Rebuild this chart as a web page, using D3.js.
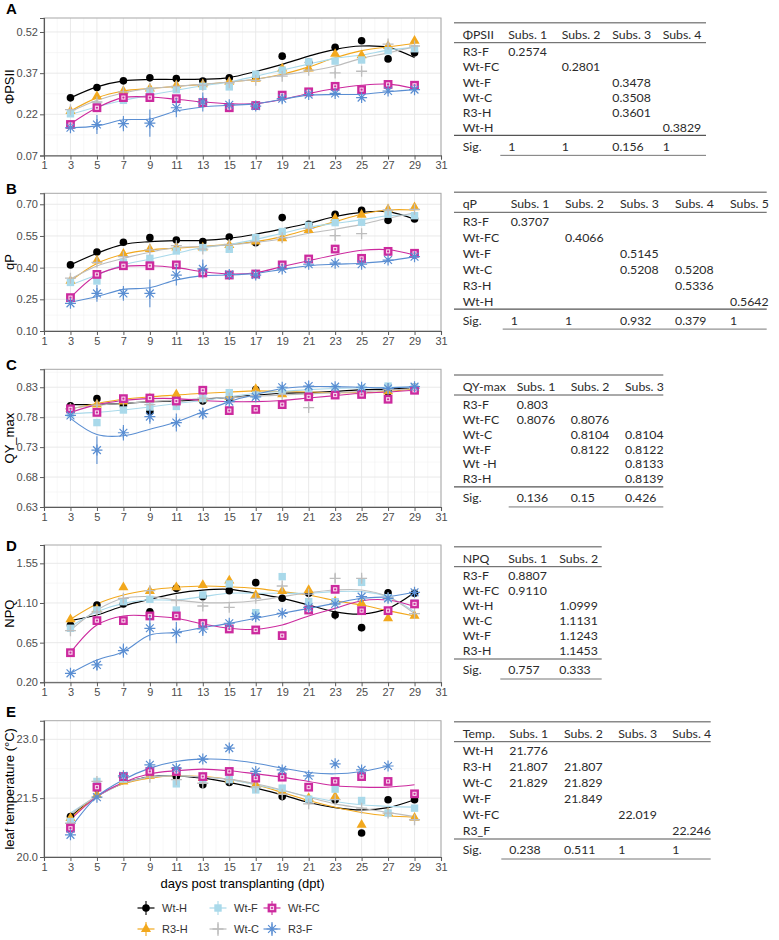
<!DOCTYPE html>
<html>
<head>
<meta charset="utf-8">
<script src="https://cdn.jsdelivr.net/npm/d3@7"></script>
<style>
  body { margin: 0; background: #fff; }
  svg text { font-family: "Liberation Sans", Arial, sans-serif; }
  .tbl text { font-family: Lato, "Open Sans", sans-serif; font-size: 12.3px; fill: #2b2b2b; }
</style>
</head>
<body>
<svg id="fig" width="779" height="940"></svg>
<script>
// ---- data ----
const days = [3, 5, 7, 9, 11, 13, 15, 17, 19, 21, 23, 25, 27, 29];
const groups = ["Wt-H", "R3-H", "Wt-F", "Wt-C", "Wt-FC", "R3-F"];
const xTicks = [1, 3, 5, 7, 9, 11, 13, 15, 17, 19, 21, 23, 25, 27, 29, 31];

// A: PhiPSII
const phiTicks = [0.07, 0.22, 0.37, 0.52];
const phiMean = [
  [0.280, 0.318, 0.342, 0.353, 0.350, 0.341, 0.353, 0.355, 0.432, 0.410, 0.464, 0.488, 0.422, 0.444],
  [0.232, 0.286, 0.305, 0.314, 0.326, 0.329, 0.338, 0.349, 0.387, 0.387, 0.440, 0.435, 0.469, 0.488],
  [0.222, 0.253, 0.271, 0.305, 0.310, 0.322, 0.320, 0.366, 0.381, 0.411, 0.414, 0.418, 0.452, 0.459],
  [0.237, 0.265, 0.302, 0.314, 0.322, 0.326, 0.335, 0.344, 0.359, 0.381, 0.371, 0.377, 0.476, 0.469],
  [0.183, 0.244, 0.281, 0.281, 0.277, 0.263, 0.244, 0.252, 0.290, 0.302, 0.322, 0.310, 0.329, 0.326],
  [0.171, 0.183, 0.186, 0.188, 0.244, 0.265, 0.255, 0.250, 0.277, 0.292, 0.296, 0.281, 0.305, 0.310]
];
const phiFit = [
  [0.280, 0.320, 0.342, 0.347, 0.347, 0.348, 0.354, 0.376, 0.402, 0.432, 0.457, 0.469, 0.464, 0.427],
  [0.232, 0.280, 0.305, 0.314, 0.322, 0.329, 0.338, 0.348, 0.366, 0.393, 0.426, 0.452, 0.466, 0.478],
  [0.220, 0.247, 0.271, 0.290, 0.308, 0.324, 0.338, 0.359, 0.381, 0.403, 0.424, 0.436, 0.454, 0.464],
  [0.229, 0.271, 0.298, 0.314, 0.322, 0.330, 0.338, 0.348, 0.363, 0.377, 0.396, 0.424, 0.444, 0.466],
  [0.185, 0.244, 0.281, 0.283, 0.275, 0.265, 0.259, 0.259, 0.274, 0.296, 0.314, 0.326, 0.330, 0.314],
  [0.171, 0.178, 0.200, 0.203, 0.232, 0.247, 0.253, 0.259, 0.275, 0.290, 0.292, 0.293, 0.302, 0.310]
];
const phiErr = [
  [0.006, 0.006, 0.006, 0.006, 0.006, 0.006, 0.006, 0.006, 0.006, 0.006, 0.006, 0.006, 0.006, 0.006],
  [0.006, 0.006, 0.006, 0.006, 0.006, 0.006, 0.006, 0.006, 0.006, 0.006, 0.006, 0.006, 0.006, 0.006],
  [0.006, 0.006, 0.006, 0.006, 0.006, 0.006, 0.006, 0.006, 0.006, 0.006, 0.006, 0.006, 0.006, 0.006],
  [0.015, 0.006, 0.006, 0.006, 0.006, 0.006, 0.006, 0.006, 0.006, 0.006, 0.006, 0.006, 0.006, 0.006],
  [0.006, 0.006, 0.006, 0.006, 0.006, 0.006, 0.006, 0.006, 0.006, 0.006, 0.006, 0.006, 0.006, 0.006],
  [0.012, 0.035, 0.028, 0.050, 0.035, 0.035, 0.010, 0.012, 0.015, 0.010, 0.010, 0.010, 0.010, 0.010]
];

// B: qP
const qpTicks = [0.10, 0.25, 0.40, 0.55, 0.70];
const qpMean = [
  [0.413, 0.474, 0.520, 0.542, 0.531, 0.523, 0.545, 0.518, 0.637, 0.605, 0.653, 0.672, 0.624, 0.630],
  [0.337, 0.433, 0.465, 0.488, 0.495, 0.495, 0.507, 0.523, 0.539, 0.578, 0.634, 0.650, 0.676, 0.686],
  [0.330, 0.337, 0.425, 0.444, 0.479, 0.495, 0.487, 0.542, 0.571, 0.600, 0.613, 0.615, 0.653, 0.646],
  [0.350, 0.425, 0.452, 0.484, 0.504, 0.488, 0.510, 0.523, 0.542, 0.586, 0.552, 0.561, 0.673, 0.676],
  [0.258, 0.368, 0.409, 0.409, 0.413, 0.375, 0.365, 0.370, 0.413, 0.441, 0.488, 0.444, 0.477, 0.468],
  [0.231, 0.278, 0.278, 0.278, 0.365, 0.394, 0.368, 0.365, 0.394, 0.416, 0.421, 0.416, 0.436, 0.452]
];
const qpFit = [
  [0.413, 0.468, 0.510, 0.523, 0.528, 0.529, 0.539, 0.558, 0.583, 0.610, 0.642, 0.662, 0.665, 0.629],
  [0.337, 0.420, 0.463, 0.484, 0.492, 0.500, 0.510, 0.523, 0.547, 0.582, 0.618, 0.653, 0.673, 0.673],
  [0.318, 0.365, 0.413, 0.440, 0.468, 0.495, 0.510, 0.534, 0.563, 0.591, 0.610, 0.626, 0.646, 0.649],
  [0.346, 0.408, 0.444, 0.473, 0.495, 0.500, 0.507, 0.520, 0.536, 0.563, 0.582, 0.605, 0.634, 0.660],
  [0.258, 0.365, 0.405, 0.409, 0.400, 0.381, 0.370, 0.376, 0.405, 0.433, 0.460, 0.482, 0.485, 0.460],
  [0.236, 0.263, 0.297, 0.305, 0.342, 0.362, 0.365, 0.373, 0.392, 0.409, 0.416, 0.421, 0.432, 0.452]
];
const qpErr = [
  [0.006, 0.006, 0.006, 0.006, 0.006, 0.006, 0.006, 0.006, 0.010, 0.006, 0.006, 0.006, 0.006, 0.006],
  [0.008, 0.006, 0.006, 0.006, 0.006, 0.006, 0.006, 0.006, 0.020, 0.006, 0.006, 0.006, 0.006, 0.006],
  [0.006, 0.006, 0.006, 0.006, 0.006, 0.006, 0.006, 0.006, 0.006, 0.006, 0.006, 0.006, 0.006, 0.006],
  [0.020, 0.006, 0.006, 0.006, 0.006, 0.006, 0.006, 0.006, 0.006, 0.006, 0.006, 0.006, 0.006, 0.006],
  [0.006, 0.006, 0.006, 0.006, 0.006, 0.006, 0.006, 0.006, 0.006, 0.006, 0.006, 0.006, 0.006, 0.006],
  [0.012, 0.040, 0.035, 0.066, 0.050, 0.045, 0.012, 0.015, 0.012, 0.010, 0.010, 0.010, 0.010, 0.010]
];

// C: QY_max
const qyTicks = [0.63, 0.68, 0.73, 0.78, 0.83];
const qyMean = [
  [0.799, 0.811, 0.799, 0.789, 0.805, 0.807, 0.812, 0.826, 0.801, 0.817, 0.822, 0.823, 0.822, 0.830],
  [0.794, 0.801, 0.806, 0.811, 0.818, 0.811, 0.814, 0.827, 0.818, 0.821, 0.822, 0.823, 0.823, 0.828],
  [0.786, 0.771, 0.792, 0.797, 0.798, 0.811, 0.821, 0.817, 0.825, 0.823, 0.828, 0.828, 0.832, 0.830],
  [0.794, 0.800, 0.806, 0.801, 0.806, 0.812, 0.812, 0.816, 0.818, 0.796, 0.820, 0.822, 0.827, 0.828],
  [0.794, 0.788, 0.811, 0.812, 0.807, 0.825, 0.791, 0.793, 0.801, 0.814, 0.817, 0.818, 0.810, 0.825],
  [0.783, 0.725, 0.754, 0.781, 0.771, 0.786, 0.806, 0.814, 0.830, 0.832, 0.831, 0.830, 0.828, 0.831]
];
const qyFit = [
  [0.801, 0.801, 0.803, 0.806, 0.807, 0.810, 0.813, 0.817, 0.820, 0.821, 0.823, 0.826, 0.827, 0.829],
  [0.794, 0.803, 0.810, 0.814, 0.817, 0.820, 0.822, 0.824, 0.823, 0.822, 0.821, 0.821, 0.823, 0.827],
  [0.786, 0.788, 0.792, 0.797, 0.803, 0.808, 0.814, 0.820, 0.823, 0.826, 0.828, 0.829, 0.830, 0.830],
  [0.795, 0.800, 0.803, 0.806, 0.808, 0.811, 0.813, 0.815, 0.817, 0.819, 0.821, 0.823, 0.825, 0.828],
  [0.788, 0.801, 0.808, 0.811, 0.811, 0.808, 0.806, 0.806, 0.808, 0.812, 0.816, 0.820, 0.822, 0.825],
  [0.778, 0.751, 0.749, 0.760, 0.772, 0.789, 0.806, 0.818, 0.828, 0.831, 0.831, 0.830, 0.829, 0.831]
];
const qyErr = [
  [0.003, 0.003, 0.003, 0.003, 0.003, 0.003, 0.003, 0.003, 0.003, 0.003, 0.003, 0.003, 0.003, 0.003],
  [0.003, 0.003, 0.003, 0.003, 0.003, 0.003, 0.003, 0.003, 0.003, 0.003, 0.003, 0.003, 0.003, 0.003],
  [0.003, 0.003, 0.003, 0.003, 0.003, 0.003, 0.003, 0.003, 0.003, 0.003, 0.003, 0.003, 0.003, 0.003],
  [0.003, 0.003, 0.003, 0.003, 0.003, 0.003, 0.003, 0.003, 0.003, 0.003, 0.003, 0.003, 0.003, 0.003],
  [0.003, 0.003, 0.004, 0.003, 0.003, 0.003, 0.003, 0.003, 0.003, 0.003, 0.003, 0.003, 0.003, 0.003],
  [0.006, 0.023, 0.013, 0.012, 0.015, 0.010, 0.004, 0.005, 0.004, 0.003, 0.003, 0.003, 0.003, 0.004]
];

// D: NPQ
const npqTicks = [0.20, 0.65, 1.10, 1.55];
const npqMean = [
  [0.850, 1.077, 1.089, 1.000, 1.266, 1.172, 1.240, 1.331, 1.153, 1.210, 0.964, 0.820, 1.215, 1.210],
  [0.915, 1.028, 1.278, 1.236, 1.278, 1.304, 1.353, 1.191, 1.236, 1.247, 1.115, 1.096, 0.926, 0.955],
  [0.813, 1.020, 1.115, 1.142, 1.020, 1.191, 1.316, 0.990, 1.399, 1.115, 1.115, 1.334, 1.160, 1.100],
  [0.786, 1.000, 1.153, 1.240, 1.126, 1.066, 1.051, 1.153, 1.293, 1.200, 1.380, 1.380, 1.160, 0.980],
  [0.536, 0.900, 0.900, 0.953, 0.953, 0.869, 0.805, 0.794, 0.730, 1.020, 1.255, 1.013, 1.013, 1.089],
  [0.302, 0.397, 0.559, 0.813, 0.763, 0.805, 0.870, 0.945, 0.983, 1.051, 1.089, 1.172, 1.153, 1.221]
];
const npqFit = [
  [0.900, 0.964, 1.066, 1.142, 1.210, 1.247, 1.255, 1.210, 1.153, 1.077, 1.000, 0.975, 1.039, 1.220],
  [0.915, 1.089, 1.191, 1.247, 1.278, 1.293, 1.285, 1.266, 1.229, 1.191, 1.126, 1.077, 1.013, 0.952],
  [0.831, 1.000, 1.096, 1.134, 1.134, 1.172, 1.210, 1.210, 1.210, 1.210, 1.229, 1.229, 1.172, 1.000],
  [0.790, 1.020, 1.153, 1.172, 1.134, 1.104, 1.104, 1.126, 1.172, 1.217, 1.247, 1.247, 1.172, 0.980],
  [0.536, 0.850, 0.953, 0.953, 0.926, 0.862, 0.813, 0.801, 0.850, 0.953, 1.039, 1.126, 1.134, 1.060],
  [0.302, 0.453, 0.548, 0.737, 0.767, 0.820, 0.869, 0.926, 0.983, 1.039, 1.096, 1.153, 1.172, 1.221]
];
const npqErr = [
  [0.020, 0.020, 0.020, 0.020, 0.020, 0.020, 0.020, 0.020, 0.020, 0.020, 0.050, 0.040, 0.040, 0.020],
  [0.020, 0.020, 0.020, 0.020, 0.020, 0.020, 0.020, 0.020, 0.020, 0.020, 0.020, 0.020, 0.020, 0.020],
  [0.020, 0.020, 0.020, 0.020, 0.020, 0.020, 0.020, 0.020, 0.020, 0.020, 0.020, 0.020, 0.020, 0.020],
  [0.050, 0.020, 0.050, 0.050, 0.020, 0.020, 0.020, 0.020, 0.020, 0.020, 0.050, 0.040, 0.020, 0.020],
  [0.020, 0.020, 0.020, 0.020, 0.020, 0.020, 0.020, 0.020, 0.020, 0.020, 0.020, 0.020, 0.020, 0.020],
  [0.020, 0.060, 0.080, 0.140, 0.120, 0.080, 0.030, 0.040, 0.030, 0.020, 0.020, 0.020, 0.020, 0.030]
];

// E: leaf temperature
const tempTicks = [20.0, 21.5, 23.0];
const tempMean = [
  [21.03, 21.755, 22.05, 22.12, 22.05, 21.84, 21.90, 21.755, 21.54, 21.46, 21.46, 20.61, 21.46, 21.46],
  [20.99, 21.585, 21.925, 22.07, 22.14, 22.01, 21.97, 21.84, 21.67, 21.50, 21.54, 20.82, 21.12, 21.00],
  [20.905, 21.925, 21.985, 22.18, 21.865, 21.97, 21.97, 21.71, 21.755, 21.475, 21.73, 21.44, 21.12, 21.245],
  [20.86, 21.925, 22.035, 22.035, 21.97, 21.88, 21.97, 21.78, 21.60, 21.355, 21.46, 21.245, 21.12, 20.95],
  [20.735, 21.78, 22.05, 22.18, 22.18, 22.05, 22.18, 22.01, 22.035, 21.78, 21.925, 22.05, 21.925, 21.61],
  [20.565, 21.525, 22.07, 22.35, 22.265, 22.495, 22.775, 22.18, 22.22, 22.07, 22.375, 22.22, 22.32, null]
];
const tempFit = [
  [21.03, 21.54, 21.88, 22.04, 22.07, 22.01, 21.90, 21.755, 21.585, 21.39, 21.26, 21.20, 21.26, 21.46],
  [20.99, 21.54, 21.865, 22.01, 22.07, 22.05, 21.98, 21.84, 21.645, 21.44, 21.27, 21.135, 21.05, 21.015],
  [21.12, 21.54, 21.88, 22.04, 22.07, 22.035, 21.97, 21.84, 21.695, 21.54, 21.415, 21.33, 21.29, 21.27],
  [21.08, 21.56, 21.88, 22.03, 22.07, 22.035, 21.985, 21.865, 21.71, 21.525, 21.355, 21.245, 21.135, 21.03],
  [20.95, 21.54, 21.90, 22.12, 22.20, 22.24, 22.20, 22.12, 22.035, 21.925, 21.815, 21.78, 21.78, 21.84],
  [20.735, 21.54, 21.97, 22.265, 22.435, 22.495, 22.48, 22.39, 22.265, 22.155, 22.12, 22.18, 22.32, null]
];
const tempErr = [
  [0.03, 0.03, 0.03, 0.03, 0.03, 0.03, 0.03, 0.03, 0.03, 0.03, 0.03, 0.03, 0.03, 0.03],
  [0.03, 0.03, 0.03, 0.03, 0.03, 0.03, 0.03, 0.03, 0.03, 0.03, 0.06, 0.03, 0.03, 0.03],
  [0.03, 0.03, 0.03, 0.03, 0.03, 0.03, 0.03, 0.03, 0.03, 0.03, 0.03, 0.06, 0.03, 0.03],
  [0.03, 0.03, 0.03, 0.03, 0.03, 0.03, 0.03, 0.03, 0.03, 0.05, 0.03, 0.03, 0.03, 0.08],
  [0.03, 0.03, 0.03, 0.03, 0.03, 0.03, 0.03, 0.03, 0.03, 0.03, 0.03, 0.03, 0.03, 0.03],
  [0.04, 0.04, 0.04, 0.04, 0.04, 0.04, 0.04, 0.04, 0.04, 0.04, 0.04, 0.04, 0.04, null]
];

// tables
const phiTableHead = ["ΦPSII", "Subs. 1", "Subs. 2", "Subs. 3", "Subs. 4"];
const phiTableRows = [
  ["R3-F", "0.2574", "", "", ""],
  ["Wt-FC", "", "0.2801", "", ""],
  ["Wt-F", "", "", "0.3478", ""],
  ["Wt-C", "", "", "0.3508", ""],
  ["R3-H", "", "", "0.3601", ""],
  ["Wt-H", "", "", "", "0.3829"]
];
const phiTableSig = ["Sig.", "1", "1", "0.156", "1"];

const qpTableHead = ["qP", "Subs. 1", "Subs. 2", "Subs. 3", "Subs. 4", "Subs. 5"];
const qpTableRows = [
  ["R3-F", "0.3707", "", "", "", ""],
  ["Wt-FC", "", "0.4066", "", "", ""],
  ["Wt-F", "", "", "0.5145", "", ""],
  ["Wt-C", "", "", "0.5208", "0.5208", ""],
  ["R3-H", "", "", "", "0.5336", ""],
  ["Wt-H", "", "", "", "", "0.5642"]
];
const qpTableSig = ["Sig.", "1", "1", "0.932", "0.379", "1"];

const qyTableHead = ["QY-max", "Subs. 1", "Subs. 2", "Subs. 3"];
const qyTableRows = [
  ["R3-F", "0.803", "", ""],
  ["Wt-FC", "0.8076", "0.8076", ""],
  ["Wt-C", "", "0.8104", "0.8104"],
  ["Wt-F", "", "0.8122", "0.8122"],
  ["Wt -H", "", "", "0.8133"],
  ["R3-H", "", "", "0.8139"]
];
const qyTableSig = ["Sig.", "0.136", "0.15", "0.426"];

const npqTableHead = ["NPQ", "Subs. 1", "Subs. 2"];
const npqTableRows = [
  ["R3-F", "0.8807", ""],
  ["Wt-FC", "0.9110", ""],
  ["Wt-H", "", "1.0999"],
  ["Wt-C", "", "1.1131"],
  ["Wt-F", "", "1.1243"],
  ["R3-H", "", "1.1453"]
];
const npqTableSig = ["Sig.", "0.757", "0.333"];

const tempTableHead = ["Temp.", "Subs. 1", "Subs. 2", "Subs. 3", "Subs. 4"];
const tempTableRows = [
  ["Wt-H", "21.776", "", "", ""],
  ["R3-H", "21.807", "21.807", "", ""],
  ["Wt-C", "21.829", "21.829", "", ""],
  ["Wt-F", "", "21.849", "", ""],
  ["Wt-FC", "", "", "22.019", ""],
  ["R3_F", "", "", "", "22.246"]
];
const tempTableSig = ["Sig.", "0.238", "0.511", "1", "1"];

// ---- styles ----
const seriesColors = ["#000000", "#F2A81D", "#A9D9EA", "#BDBDBD", "#CC2A9E", "#5A8ED2"];
const seriesShapes = ["circle", "triangle", "square", "plus", "boxdot", "asterisk"];

// ---- layout ----
const svg = d3.select("#fig");
const x = d3.scaleLinear().domain([1, 31]).range([44, 441]);

const panels = [
  { letter: "A", letterY: 13.5, title: "ΦPSII", top: 18, bottom: 155.5, domain: [0.07, 0.571], ticks: phiTicks,
    mean: phiMean, fit: phiFit, err: phiErr, fmt: d3.format(".2f") },
  { letter: "B", letterY: 194, title: "qP", top: 193.3, bottom: 331, domain: [0.10, 0.752], ticks: qpTicks,
    mean: qpMean, fit: qpFit, err: qpErr, fmt: d3.format(".2f") },
  { letter: "C", letterY: 370, title: "QY_max", top: 369.3, bottom: 507, domain: [0.63, 0.86], ticks: qyTicks,
    mean: qyMean, fit: qyFit, err: qyErr, fmt: d3.format(".2f") },
  { letter: "D", letterY: 550.5, title: "NPQ", top: 545, bottom: 682.3, domain: [0.20, 1.758], ticks: npqTicks,
    mean: npqMean, fit: npqFit, err: npqErr, fmt: d3.format(".2f") },
  { letter: "E", letterY: 716.5, title: "leaf temperature (°C)", top: 720.7, bottom: 857, domain: [20.0, 23.474], ticks: tempTicks,
    mean: tempMean, fit: tempFit, err: tempErr, fmt: d3.format(".1f") }
];

const tables = [
  { head: phiTableHead, rows: phiTableRows, sig: phiTableSig, top: 22.7, step: 15.07, right: 706,
    cols: [462.7, 508.3, 561.7, 612.3, 662.7] },
  { head: qpTableHead, rows: qpTableRows, sig: qpTableSig, top: 192.3, step: 15.9, right: 766.7,
    cols: [462.7, 510.7, 565, 620, 675, 730] },
  { head: qyTableHead, rows: qyTableRows, sig: qyTableSig, top: 375, step: 14.93, right: 663.3,
    cols: [462.7, 516.7, 570.7, 625] },
  { head: npqTableHead, rows: npqTableRows, sig: npqTableSig, top: 546.7, step: 15, right: 601.7,
    cols: [462.7, 508.3, 559.3] },
  { head: tempTableHead, rows: tempTableRows, sig: tempTableSig, top: 721.7, step: 16, right: 710.7,
    cols: [462.7, 509.3, 564, 618.3, 672.3] }
];

function marker(g, i, cx, cy) {
  const c = seriesColors[i];
  const s = g.append("g").attr("transform", `translate(${cx},${cy})`);
  switch (seriesShapes[i]) {
    case "circle":
      s.append("circle").attr("r", 3.8).attr("fill", c);
      break;
    case "triangle":
      s.append("path").attr("d", d3.symbol(d3.symbolTriangle, 44)()).attr("fill", c);
      break;
    case "square":
      s.append("rect").attr("x", -3.7).attr("y", -3.7).attr("width", 7.4).attr("height", 7.4).attr("fill", c);
      break;
    case "plus":
      s.append("path").attr("d", "M-5.5,0H5.5M0,-5.5V5.5").attr("stroke", c).attr("stroke-width", 1.3);
      break;
    case "boxdot":
      s.append("rect").attr("x", -4.4).attr("y", -4.4).attr("width", 8.8).attr("height", 8.8).attr("fill", c);
      s.append("rect").attr("x", -2.1).attr("y", -2.1).attr("width", 4.2).attr("height", 4.2).attr("fill", "#f6d2ea");
      s.append("circle").attr("r", 1.1).attr("fill", c);
      break;
    case "asterisk":
      s.append("path")
        .attr("d", "M-5.5,0H5.5M0,-5.5V5.5M-3.9,-3.9L3.9,3.9M-3.9,3.9L3.9,-3.9")
        .attr("stroke", c).attr("stroke-width", 1.2);
      break;
  }
}

panels.forEach(p => {
  const y = d3.scaleLinear().domain(p.domain).range([p.bottom, p.top]);
  const g = svg.append("g");

  // grid
  const step = p.ticks[1] - p.ticks[0];
  const minorY = [];
  p.ticks.forEach(t => { if (t + step / 2 <= p.domain[1]) minorY.push(t + step / 2); });
  g.selectAll(".my").data(minorY).join("line")
    .attr("x1", x(1)).attr("x2", x(31)).attr("y1", d => y(d)).attr("y2", d => y(d))
    .attr("stroke", "#f2f2f2").attr("stroke-width", 0.6);
  g.selectAll(".mx").data(d3.range(2, 31, 2)).join("line")
    .attr("y1", p.top).attr("y2", p.bottom).attr("x1", d => x(d)).attr("x2", d => x(d))
    .attr("stroke", "#f2f2f2").attr("stroke-width", 0.6);
  g.selectAll(".gy").data(p.ticks).join("line")
    .attr("x1", x(1)).attr("x2", x(31)).attr("y1", d => y(d)).attr("y2", d => y(d))
    .attr("stroke", "#e6e6e6").attr("stroke-width", 0.9);
  g.selectAll(".gx").data(xTicks).join("line")
    .attr("y1", p.top).attr("y2", p.bottom).attr("x1", d => x(d)).attr("x2", d => x(d))
    .attr("stroke", "#e6e6e6").attr("stroke-width", 0.9);

  g.append("rect").attr("x", x(1)).attr("y", p.top)
    .attr("width", x(31) - x(1)).attr("height", p.bottom - p.top)
    .attr("fill", "none").attr("stroke", "#a8a8a8").attr("stroke-width", 1);

  // axes
  const ya = g.append("g").attr("transform", `translate(${x(1)},0)`)
    .call(d3.axisLeft(y).tickValues(p.ticks).tickFormat(p.fmt).tickSize(4).tickPadding(2));
  const xa = g.append("g").attr("transform", `translate(0,${p.bottom})`)
    .call(d3.axisBottom(x).tickValues(xTicks).tickSize(4).tickPadding(2));
  [ya, xa].forEach(a => {
    a.select(".domain").attr("stroke", "#5a5a5a").attr("stroke-width", 1.1);
    a.selectAll(".tick line").attr("stroke", "#5a5a5a");
    a.selectAll(".tick text").attr("fill", "#4d4d4d").style("font-size", "11px")
      .style("font-family", "Liberation Sans, Arial, sans-serif");
  });

  // titles
  svg.append("text").attr("x", 6).attr("y", p.letterY).text(p.letter)
    .style("font-size", "15px").style("font-weight", "bold").attr("fill", "#000");
  svg.append("text")
    .attr("transform", `translate(14,${(p.top + p.bottom) / 2}) rotate(-90)`)
    .attr("text-anchor", "middle").style("font-size", "13px").attr("fill", "#000")
    .text(p.title);

  // fitted lines
  const line = d3.line()
    .defined(d => d.v != null)
    .x(d => x(d.day)).y(d => y(d.v))
    .curve(d3.curveCatmullRom.alpha(0.5));
  groups.forEach((name, i) => {
    const pts = days.map((day, k) => ({ day, v: p.fit[i][k] }));
    g.append("path").datum(pts).attr("d", line)
      .attr("fill", "none").attr("stroke", seriesColors[i])
      .attr("stroke-width", i === 0 ? 1.2 : 1.1);
  });

  // points with error bars
  groups.forEach((name, i) => {
    days.forEach((day, k) => {
      const v = p.mean[i][k];
      if (v == null) return;
      const e = p.err[i][k] || 0;
      g.append("line").attr("x1", x(day)).attr("x2", x(day))
        .attr("y1", y(v - e)).attr("y2", y(v + e))
        .attr("stroke", seriesColors[i]).attr("stroke-width", 1.1);
      marker(g, i, x(day), y(v));
    });
  });
});

// x-axis title
svg.append("text").attr("x", x(16)).attr("y", 888)
  .attr("text-anchor", "middle").style("font-size", "13px").attr("fill", "#000")
  .text("days post transplanting (dpt)");

// legend
const legendX = [146, 218, 272];
const legendY = [908, 929];
groups.forEach((name, i) => {
  const cx = legendX[Math.floor(i / 2)], cy = legendY[i % 2];
  const lg = svg.append("g");
  lg.append("line").attr("x1", cx - 8.5).attr("x2", cx + 8.5).attr("y1", cy).attr("y2", cy)
    .attr("stroke", seriesColors[i]).attr("stroke-width", 1.2);
  lg.append("line").attr("x1", cx).attr("x2", cx).attr("y1", cy - 7).attr("y2", cy + 7)
    .attr("stroke", seriesColors[i]).attr("stroke-width", 1.1);
  marker(lg, i, cx, cy);
  lg.append("text").attr("x", cx + 16).attr("y", cy + 4)
    .style("font-size", "11px").attr("fill", "#333").text(name);
});

// tables
tables.forEach(t => {
  const g = svg.append("g").attr("class", "tbl");
  const left = 454;
  const headC = t.top + 11.5;
  const headLine = t.top + 20;
  const row0 = t.top + 29.3;
  const lastRow = row0 + t.step * (t.rows.length - 1);
  const sigLine = lastRow + 8;
  const sigC = sigLine + 11;
  const bottom = sigC + 9;

  g.append("line").attr("x1", left).attr("x2", t.right).attr("y1", t.top).attr("y2", t.top)
    .attr("stroke", "#8a8a8a").attr("stroke-width", 1.6);
  g.append("line").attr("x1", left).attr("x2", t.right).attr("y1", headLine).attr("y2", headLine)
    .attr("stroke", "#555").attr("stroke-width", 1);
  g.append("line").attr("x1", left).attr("x2", t.right).attr("y1", sigLine).attr("y2", sigLine)
    .attr("stroke", "#555").attr("stroke-width", 1.2);
  g.append("line").attr("x1", t.cols[1] - 8).attr("x2", t.right).attr("y1", bottom).attr("y2", bottom)
    .attr("stroke", "#777").attr("stroke-width", 1);

  const putRow = (cells, cy) => {
    cells.forEach((c, j) => {
      if (!c) return;
      g.append("text").attr("x", t.cols[j]).attr("y", cy).attr("dy", "0.36em").text(c);
    });
  };
  putRow(t.head, headC);
  t.rows.forEach((r, k) => putRow(r, row0 + t.step * k));
  putRow(t.sig, sigC);
});
</script>
</body>
</html>
